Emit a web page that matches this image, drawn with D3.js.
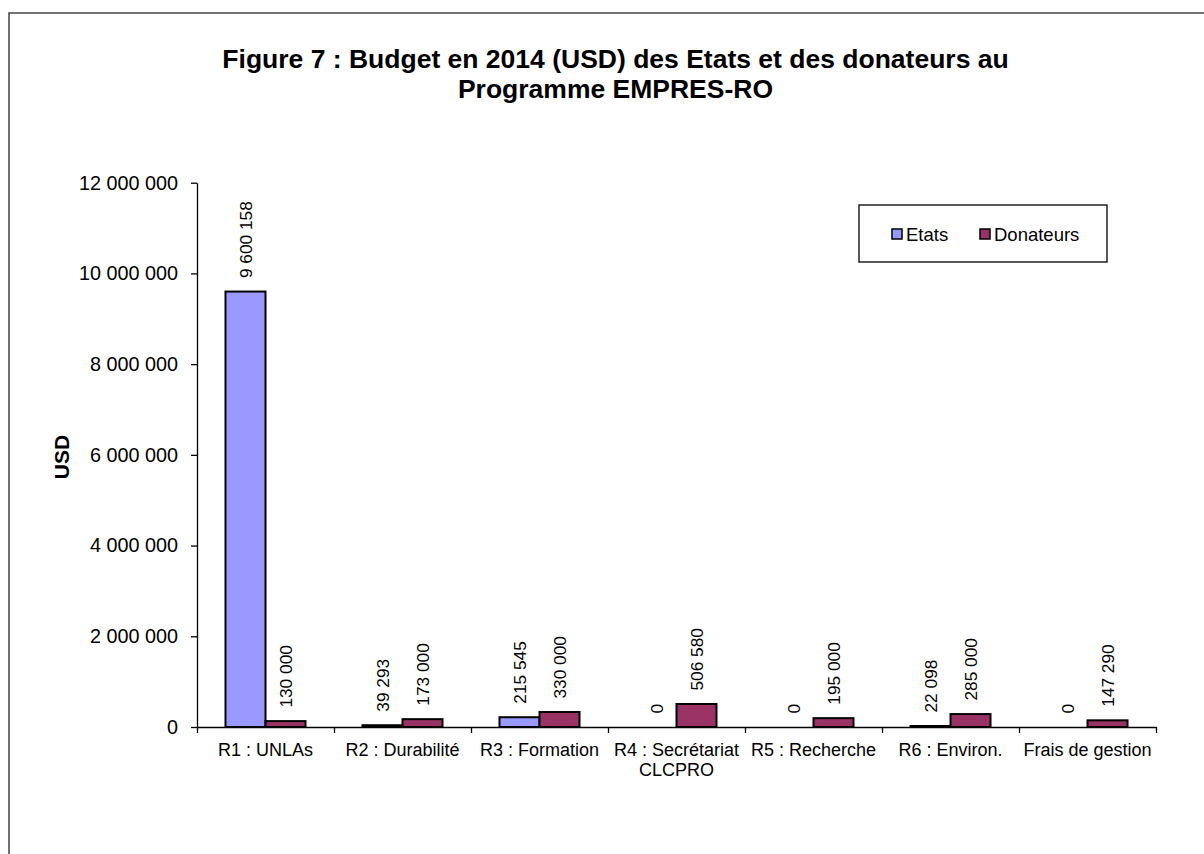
<!DOCTYPE html>
<html>
<head>
<meta charset="utf-8">
<script src="https://cdn.jsdelivr.net/npm/d3@7"></script>
<style>
  html, body { margin: 0; padding: 0; background: #fff; }
  svg { display: block; font-family: "Liberation Sans", Arial, sans-serif; }
</style>
</head>
<body>
<svg id="chart" width="1204" height="854"></svg>
<script>
const categories = ["R1 : UNLAs", "R2 : Durabilité", "R3 : Formation", "R4 : Secrétariat\nCLCPRO", "R5 : Recherche", "R6 : Environ.", "Frais de gestion"];
const etats = [9600158, 39293, 215545, 0, 0, 22098, 0];
const donateurs = [130000, 173000, 330000, 506580, 195000, 285000, 147290];
const seriesNames = ["Etats", "Donateurs"];
const seriesColors = ["#9999FF", "#993366"];
const yTicks = [0, 2000000, 4000000, 6000000, 8000000, 10000000, 12000000];
const titleLines = ["Figure 7 : Budget en 2014 (USD) des Etats et des donateurs au", "Programme EMPRES-RO"];
const yLabel = "USD";

const svg = d3.select("#chart");
const fmt = v => d3.format(",")(v).replace(/,/g, " ");

// outer frame
svg.append("rect").attr("x", 9).attr("y", 13).attr("width", 1300).attr("height", 1000)
  .attr("fill", "none").attr("stroke", "#444").attr("stroke-width", 1.5);

const plotLeft = 197, plotRight = 1156, plotTop = 182.7, plotBottom = 727;
const y = d3.scaleLinear().domain([0, 12000000]).range([plotBottom, plotTop]);
const x = d3.scaleBand().domain(d3.range(categories.length)).range([plotLeft, plotRight]).paddingInner(0).paddingOuter(0);
const xb = d3.scaleLinear().domain([0, categories.length]).range([plotLeft, plotRight]);
const barW = x.bandwidth() * 0.292;

// title
svg.append("text").attr("text-anchor", "middle").attr("font-weight", "bold").attr("font-size", 26.5)
  .selectAll("tspan").data(titleLines).join("tspan")
  .attr("x", 615.5).attr("y", (d, i) => 68 + i * 29.5).text(d => d);

// y axis
const yAxis = svg.append("g").attr("transform", `translate(${plotLeft},0)`)
  .call(d3.axisLeft(y).tickValues(yTicks).tickFormat(fmt).tickSize(6).tickSizeOuter(0).tickPadding(13));
yAxis.select(".domain").attr("stroke", "#000").attr("stroke-width", 1.3);
yAxis.selectAll(".tick line").attr("stroke", "#000").attr("stroke-width", 1.3);
yAxis.selectAll(".tick text").attr("font-size", 19.8).attr("fill", "#000").attr("font-family", "Liberation Sans, Arial, sans-serif");

// y label
svg.append("text").attr("transform", `translate(69,457) rotate(-90)`).attr("text-anchor", "middle")
  .attr("font-weight", "bold").attr("font-size", 21).text(yLabel);

// bars
const series = [etats, donateurs];
series.forEach((vals, s) => {
  svg.append("g").selectAll("rect").data(vals).join("rect")
    .attr("x", (d, i) => x(i) + x.bandwidth() / 2 - barW + s * barW)
    .attr("y", d => y(d))
    .attr("width", barW)
    .attr("height", d => y(0) - y(d))
    .attr("fill", seriesColors[s]).attr("stroke", "#000").attr("stroke-width", 2);
  svg.append("g").selectAll("text").data(vals).join("text")
    .attr("transform", (d, i) => `translate(${x(i) + x.bandwidth() / 2 - barW / 2 + s * barW},${y(d) - 13.5}) rotate(-90)`)
    .attr("dy", "0.35em").attr("font-size", 17.3).attr("text-anchor", "start").text(d => fmt(d));
});

// x axis
const xAxis = svg.append("g").attr("transform", `translate(0,${plotBottom})`)
  .call(d3.axisBottom(xb).tickValues(d3.range(categories.length + 1)).tickFormat("").tickSize(6).tickSizeOuter(0));
xAxis.select(".domain").attr("stroke", "#000").attr("stroke-width", 1.3);
xAxis.selectAll(".tick line").attr("stroke", "#000").attr("stroke-width", 1.3);

svg.append("g").selectAll("text").data(categories).join("text")
  .attr("text-anchor", "middle").attr("font-size", 18)
  .each(function(d, i) {
    d3.select(this).selectAll("tspan").data(d.split("\n")).join("tspan")
      .attr("x", x(i) + x.bandwidth() / 2).attr("y", (t, j) => 756 + j * 19.5).text(t => t);
  });

// legend
const lg = svg.append("g");
lg.append("rect").attr("x", 859).attr("y", 205).attr("width", 248).attr("height", 57)
  .attr("fill", "#fff").attr("stroke", "#000").attr("stroke-width", 1.3);
const legX = [892, 980];
seriesNames.forEach((n, i) => {
  lg.append("rect").attr("x", legX[i]).attr("y", 229).attr("width", 10).attr("height", 10)
    .attr("fill", seriesColors[i]).attr("stroke", "#000").attr("stroke-width", 1.5);
  lg.append("text").attr("x", legX[i] + 14).attr("y", 240.5).attr("font-size", 18.5).text(n);
});
</script>
</body>
</html>
